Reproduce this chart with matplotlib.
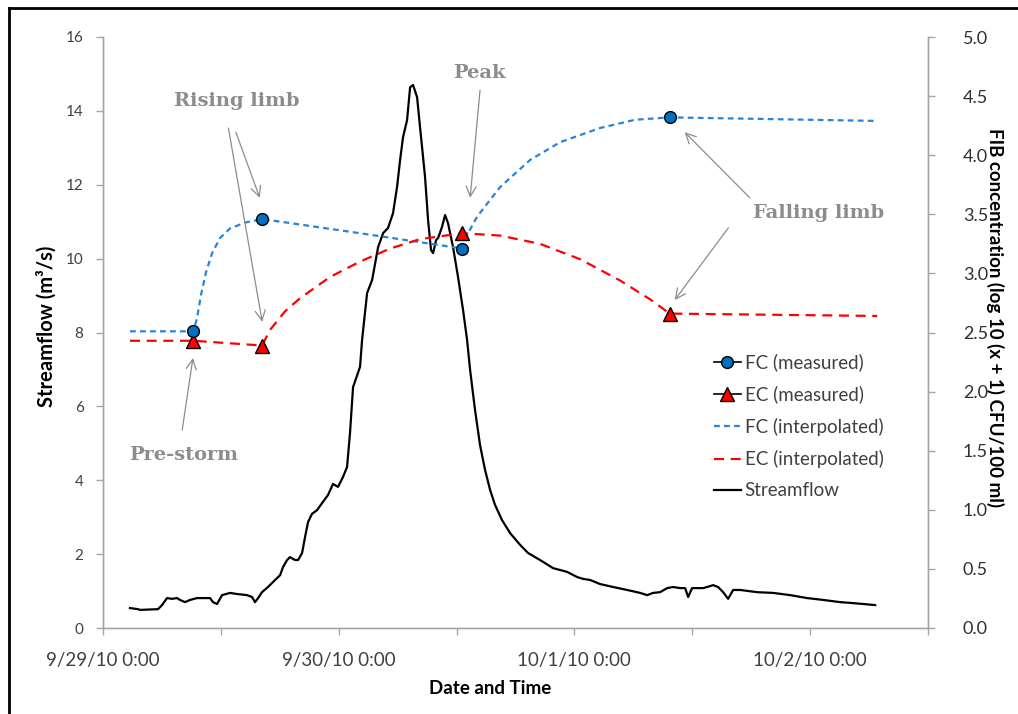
import matplotlib
matplotlib.use("Agg")
import matplotlib.pyplot as plt
import matplotlib.dates as mdates
from matplotlib.lines import Line2D
import pandas as pd

# ---- data -------------------------------------------------------------
start = pd.Timestamp("2010-09-29 00:00")

# Streamflow (m3/s), hours after 9/29/10 0:00
flow_hours = [2.75, 3.56, 3.77, 5.60, 6.01, 6.52, 7.03, 7.54, 7.84, 8.35, 8.86,
              9.57, 10.90, 11.20, 11.61, 12.12, 12.93, 13.65, 14.66, 15.17, 15.48,
              15.79, 16.19, 16.80, 17.52, 18.03, 18.33, 18.74, 19.04, 19.55, 19.86,
              20.27, 20.57, 20.88, 21.28, 21.79, 22.30, 22.91, 23.42, 23.93, 24.44,
              24.85, 25.15, 25.46, 26.17, 26.38, 26.89, 27.40, 28.01, 28.52, 29.02,
              29.53, 29.94, 30.25, 30.55, 30.96, 31.27, 31.57, 31.98, 32.28, 32.79,
              33.10, 33.40, 33.61, 33.91, 34.12, 34.52, 34.83, 35.13, 35.64, 36.15,
              36.66, 37.07, 37.38, 37.88, 38.39, 38.90, 39.41, 39.92, 40.63, 41.45,
              42.47, 43.28, 44.50, 45.83, 47.25, 48.27, 48.88, 49.60, 50.61, 51.94,
              53.36, 54.69, 55.40, 56.01, 56.72, 57.44, 58.05, 58.76, 59.27, 59.58,
              59.98, 61.10, 61.51, 62.12, 62.63, 63.14, 63.65, 64.16, 64.87, 66.60,
              68.23, 69.96, 71.70, 73.32, 75.06, 76.07, 77.40, 78.62]
flow = [0.54, 0.51, 0.49, 0.51, 0.62, 0.81, 0.79, 0.81, 0.76, 0.70, 0.76,
        0.81, 0.81, 0.70, 0.65, 0.89, 0.95, 0.92, 0.89, 0.84, 0.70,
        0.81, 0.97, 1.11, 1.30, 1.43, 1.65, 1.84, 1.92, 1.84, 1.84,
        2.03, 2.46, 2.87, 3.09, 3.19, 3.38, 3.60, 3.90, 3.82, 4.09,
        4.36, 5.28, 6.52, 7.07, 7.80, 9.07, 9.42, 10.31, 10.69, 10.83,
        11.23, 11.94, 12.67, 13.29, 13.75, 14.64, 14.70, 14.37, 13.56, 12.21,
        11.04, 10.23, 10.15, 10.50, 10.56, 10.86, 11.18, 10.96, 10.31, 9.50,
        8.61, 7.80, 6.98, 5.90, 4.95, 4.28, 3.74, 3.33, 2.92, 2.57,
        2.25, 2.03, 1.84, 1.62, 1.52, 1.38, 1.33, 1.30, 1.19, 1.11,
        1.03, 0.95, 0.89, 0.95, 0.97, 1.08, 1.11, 1.08, 1.08, 0.84,
        1.08, 1.08, 1.11, 1.16, 1.11, 0.97, 0.79, 1.03, 1.03, 0.97,
        0.95, 0.89, 0.81, 0.76, 0.70, 0.68, 0.65, 0.62]

# Measured FIB samples, log10(x+1) CFU/100 ml
sample_hours = [9.2, 16.2, 36.6, 57.7]
fc_measured = [2.51, 3.46, 3.21, 4.32]
ec_measured = [2.43, 2.39, 3.34, 2.66]

# Interpolated FIB curves
fc_interp_hours = [2.75, 9.2, 9.57, 9.98, 10.49, 11.10, 11.92, 12.93, 14.46, 16.2,
                   26.17, 36.6, 37.17, 38.09, 40.43, 43.49, 46.54, 50.61, 54.18,
                   57.7, 78.82]
fc_interp = [2.51, 2.51, 2.62, 2.82, 3.01, 3.17, 3.30, 3.38, 3.43, 3.46,
             3.34, 3.21, 3.34, 3.48, 3.73, 3.96, 4.11, 4.23, 4.30,
             4.32, 4.29]
ec_interp_hours = [2.75, 9.2, 16.2, 16.99, 18.54, 20.06, 23.12, 26.17,
                   29.23, 32.28, 36.6, 40.43, 44.50, 48.58, 52.65, 55.71, 57.7,
                   78.82]
ec_interp = [2.43, 2.43, 2.39, 2.52, 2.68, 2.79, 2.97, 3.10,
             3.21, 3.29, 3.34, 3.32, 3.25, 3.12, 2.94, 2.78, 2.66,
             2.64]

legend_labels = ["FC (measured)", "EC (measured)", "FC (interpolated)",
                 "EC (interpolated)", "Streamflow"]


def to_time(hours):
    return start + pd.to_timedelta(hours, unit="h")


# ---- styling ----------------------------------------------------------
SANS = ["Lato", "DejaVu Sans"]
plt.rcParams["font.family"] = SANS
AX_GREY = "#a6a6a6"
TXT = "#404040"
BLUE = "#0070c0"
BLUE_LINE = "#2b83d8"
RED = "#ff0000"
NOTE = "#8c8c8c"

fig = plt.figure(figsize=(10.18, 7.14), dpi=100)
ax = fig.add_axes([103 / 1018, 1 - 628 / 714, 825 / 1018, 591 / 714])
ax2 = ax.twinx()

# Streamflow on the left axis
ax.plot(to_time(flow_hours), flow, color="black", lw=1.6, zorder=3,
        solid_joinstyle="round")
ax.set_ylim(0, 16)
ax.set_yticks(range(0, 17, 2))

# FIB concentrations on the right axis
ax2.plot(to_time(fc_interp_hours), fc_interp, color=BLUE_LINE, lw=1.6,
         dashes=(2.6, 1.9), zorder=2)
ax2.plot(to_time(ec_interp_hours), ec_interp, color=RED, lw=1.6,
         dashes=(4.5, 3.0), zorder=2)
ax2.plot(to_time(sample_hours), ec_measured, ls="none", marker="^", ms=9.5,
         mfc=RED, mec="black", mew=1.0, zorder=4)
ax2.plot(to_time(sample_hours), fc_measured, ls="none", marker="o", ms=8.5,
         mfc=BLUE, mec="black", mew=1.0, zorder=5)
ax2.set_ylim(0, 5)
ax2.set_yticks([i * 0.5 for i in range(11)])
ax2.yaxis.set_major_formatter(plt.FuncFormatter(lambda v, p: f"{v:.1f}"))

ax.set_xlim(start, start + pd.Timedelta(hours=84))
ax.xaxis.set_major_locator(mdates.DayLocator())
ax.xaxis.set_minor_locator(mdates.HourLocator(byhour=[12]))


def date_label(v, pos):
    d = mdates.num2date(v)
    return f"{d.month}/{d.day}/{d.strftime('%y')} {d.hour}:{d.minute:02d}"


ax.xaxis.set_major_formatter(plt.FuncFormatter(date_label))

for a in (ax, ax2):
    for s in a.spines.values():
        s.set_color(AX_GREY)
        s.set_linewidth(1.0)
    a.spines["top"].set_visible(False)
    a.tick_params(which="both", color=AX_GREY, length=5, width=1.0,
                  direction="out")

ax.tick_params(axis="x", which="major", labelsize=13.5, labelcolor=TXT, pad=12)
ax.tick_params(axis="y", labelsize=11, labelcolor=TXT, pad=9)
ax2.tick_params(axis="y", labelsize=13, labelcolor="#303030", pad=20)

# axis titles
fig.text(490 / 1018, 1 - 688 / 714, "Date and Time", fontsize=13.5,
         fontweight="bold", ha="center", va="center")
fig.text(47 / 1018, 1 - 326 / 714, "Streamflow (m³/s)", fontsize=14.5,
         fontweight="bold", ha="center", va="center", rotation=90)
fig.text(995 / 1018, 1 - 318 / 714,
         "FIB concentration (log 10 (x + 1) CFU/100 ml)", fontsize=13.5,
         fontweight="bold", ha="center", va="center", rotation=270)

# ---- legend -----------------------------------------------------------
handles = [
    Line2D([], [], color="black", lw=1.2, marker="o", ms=8.5, mfc=BLUE,
           mec="black"),
    Line2D([], [], color="black", lw=1.2, marker="^", ms=9.5, mfc=RED,
           mec="black"),
    Line2D([], [], color=BLUE_LINE, lw=1.6, dashes=(2.6, 1.9)),
    Line2D([], [], color=RED, lw=1.6, dashes=(4.5, 3.0)),
    Line2D([], [], color="black", lw=1.6),
]
ax2.legend(handles, legend_labels, loc="upper left",
           bbox_to_anchor=(0.72, 0.493), frameon=False, fontsize=13.5,
           handlelength=1.45, handletextpad=0.2, labelspacing=0.76,
           labelcolor=TXT)

# ---- annotations ------------------------------------------------------
note_font = dict(family="DejaVu Serif", fontweight="bold", fontsize=14,
                 color=NOTE, ha="center", va="center")
arrow = dict(arrowstyle="->", color="#8c8c8c", lw=0.9, mutation_scale=18,
             shrinkA=0, shrinkB=0)

ax2.text(0.162, 0.892, "Rising limb", transform=ax2.transAxes, **note_font)
ax2.text(0.456, 0.939, "Peak", transform=ax2.transAxes, **note_font)
ax2.text(0.867, 0.702, "Falling limb", transform=ax2.transAxes, **note_font)
ax2.text(0.098, 0.293, "Pre-storm", transform=ax2.transAxes, **note_font)

for (x0, y0), (x1, y1) in [
    ((0.161, 0.839), (0.190, 0.728)),
    ((0.152, 0.846), (0.193, 0.518)),
    ((0.457, 0.910), (0.445, 0.728)),
    ((0.784, 0.728), (0.705, 0.839)),
    ((0.758, 0.677), (0.693, 0.555)),
    ((0.096, 0.335), (0.109, 0.457)),
]:
    ax2.annotate("", xy=(x1, y1), xytext=(x0, y0), xycoords="axes fraction",
                 textcoords="axes fraction", arrowprops=arrow)

# ---- outer frame ------------------------------------------------------
fig.add_artist(Line2D([9 / 1018, 1.0], [1 - 8 / 714, 1 - 8 / 714],
                      transform=fig.transFigure, color="black", lw=2.0))
fig.add_artist(Line2D([9 / 1018, 9 / 1018], [0.0, 1 - 8 / 714],
                      transform=fig.transFigure, color="black", lw=2.0))

fig.savefig("out.png", dpi=100, facecolor="white")
